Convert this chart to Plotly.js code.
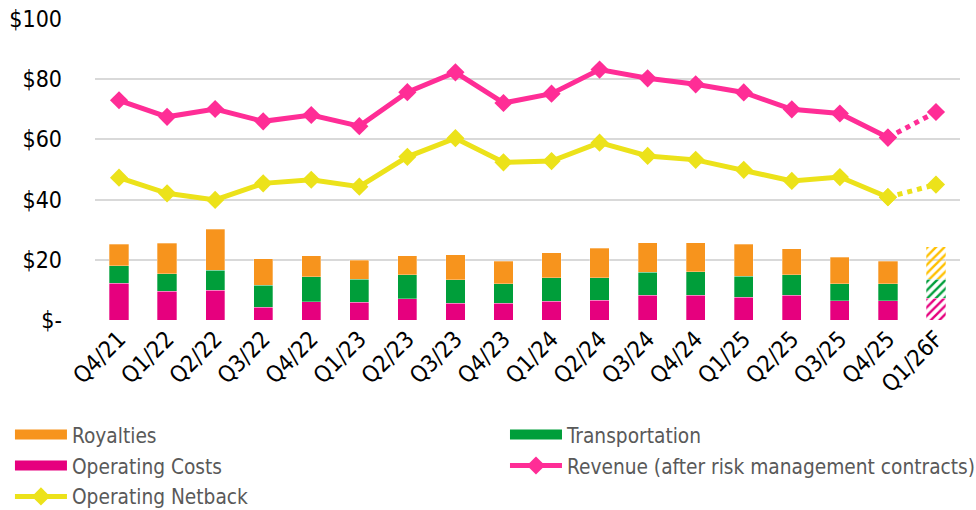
<!DOCTYPE html>
<html>
<head>
<meta charset="utf-8">
<script src="https://cdn.plot.ly/plotly-3.0.1.min.js"></script>
<style>html,body{margin:0;padding:0;background:#fff;}#chart{width:976px;height:510px;}</style>
</head>
<body>
<div id="chart"></div>
<script>
const categories = ["Q4/21","Q1/22","Q2/22","Q3/22","Q4/22","Q1/23","Q2/23","Q3/23","Q4/23","Q1/24","Q2/24","Q3/24","Q4/24","Q1/25","Q2/25","Q3/25","Q4/25","Q1/26F"];
const operatingCosts = [12.2, 9.6, 9.9, 4.2, 6.0, 5.9, 7.0, 5.5, 5.5, 6.2, 6.5, 8.2, 8.3, 7.6, 8.3, 6.4, 6.4, 7.2];
const transportation = [5.8, 5.8, 6.6, 7.4, 8.3, 7.7, 8.1, 7.9, 6.6, 7.9, 7.6, 7.7, 7.7, 7.0, 6.7, 5.7, 5.7, 6.3];
const royalties      = [7.2, 10.1, 13.6, 8.7, 7.1, 6.2, 6.3, 8.3, 7.5, 8.2, 9.7, 9.7, 9.6, 10.6, 8.6, 8.8, 7.5, 10.9];
const revenue        = [73.0, 67.5, 70.1, 66.0, 68.1, 64.4, 75.7, 82.3, 72.1, 75.2, 83.2, 80.3, 78.3, 75.6, 70.0, 68.6, 60.6, 69.1];
const netback        = [47.3, 42.1, 39.9, 45.4, 46.6, 44.3, 54.2, 60.4, 52.4, 52.8, 58.9, 54.5, 53.2, 49.9, 46.2, 47.5, 40.8, 45.0];
const yTickVals  = [0, 20, 40, 60, 80, 100];
const yTickText  = ["$-", "$20", "$40", "$60", "$80", "$100"];
const forecastIndex = categories.length - 1;

const shapes = categories.map((c, i) => i === forecastIndex ? "/" : "");
function barColors(base, hatch) {
  return categories.map((c, i) => i === forecastIndex ? hatch : base);
}

const font = "'DejaVu Sans Condensed', 'DejaVu Sans', sans-serif";
const C = {costs: "#E6007E", transp: "#009E3A", roy: "#F7941D", royHatch: "#FFC000", rev: "#FF2D96", net: "#ECE21A"};

function bar(name, y, color, hatch) {
  return {type: "bar", name: name, x: categories, y: y, showlegend: false, width: 0.4,
    marker: {color: barColors(color, hatch), line: {width: 0.5, color: "rgba(255,255,255,0.6)"},
             pattern: {shape: shapes, fillmode: "replace", size: 6, solidity: 0.4}}};
}
function swatch(name, color, legend, group) {
  return {type: "scatter", mode: "lines", name: name, x: [null], y: [null], legend: legend, legendgroup: group,
          line: {color: color, width: 11}, hoverinfo: "skip"};
}

const traces = [
  bar("Operating Costs", operatingCosts, C.costs, C.costs),
  bar("Transportation", transportation, C.transp, C.transp),
  bar("Royalties", royalties, C.roy, C.royHatch),
  swatch("Royalties", C.roy, "legend", "a"),
  swatch("Operating Costs", C.costs, "legend", "b"),
  swatch("Transportation", C.transp, "legend2", "d"),
  {type: "scatter", mode: "lines+markers", name: "Revenue (after risk management contracts)", legend: "legend2", legendgroup: "e",
   x: categories.slice(0, forecastIndex), y: revenue.slice(0, forecastIndex),
   line: {color: C.rev, width: 5}, marker: {symbol: "diamond", size: 14, color: C.rev}},
  {type: "scatter", mode: "lines+markers", name: "Revenue forecast", showlegend: false,
   x: categories.slice(forecastIndex - 1), y: revenue.slice(forecastIndex - 1),
   line: {color: C.rev, width: 5, dash: "dot"}, marker: {symbol: "diamond", size: 14, color: C.rev}},
  {type: "scatter", mode: "lines+markers", name: "Operating Netback", legend: "legend", legendgroup: "c",
   x: categories.slice(0, forecastIndex), y: netback.slice(0, forecastIndex),
   line: {color: C.net, width: 5}, marker: {symbol: "diamond", size: 14, color: C.net}},
  {type: "scatter", mode: "lines+markers", name: "Netback forecast", showlegend: false,
   x: categories.slice(forecastIndex - 1), y: netback.slice(forecastIndex - 1),
   line: {color: C.net, width: 5, dash: "dot"}, marker: {symbol: "diamond", size: 14, color: C.net}}
];

const legendBase = {orientation: "v", xref: "container", yref: "container", yanchor: "top", xanchor: "left",
  traceorder: "grouped", tracegroupgap: 1, bgcolor: "rgba(0,0,0,0)", itemwidth: 52,
  font: {size: 20.7, family: font, color: "#595959"}};

const layout = {
  width: 976, height: 510,
  margin: {l: 95, r: 16, t: 19, b: 190, autoexpand: false},
  barmode: "stack",
  paper_bgcolor: "#fff", plot_bgcolor: "#fff",
  font: {family: font, color: "#000"},
  showlegend: true,
  xaxis: {type: "category", range: [-0.5, 17.5], tickangle: -45, tickfont: {size: 23, family: font, color: "#000"},
          showgrid: false, zeroline: false, showline: false, ticks: "", automargin: false},
  yaxis: {range: [0, 100], tickvals: yTickVals, ticktext: yTickText,
          tickfont: {size: 23, family: font, color: "#000"}, gridcolor: "#D9D9D9", gridwidth: 2,
          zeroline: false, showline: false, ticks: "", ticklabelstandoff: 32, automargin: false},
  legend: Object.assign({}, legendBase, {x: 0.0102, y: 0.187}),
  legend2: Object.assign({}, legendBase, {x: 0.5174, y: 0.187})
};

Plotly.newPlot("chart", traces, layout, {displayModeBar: false, staticPlot: true});
</script>
</body>
</html>
